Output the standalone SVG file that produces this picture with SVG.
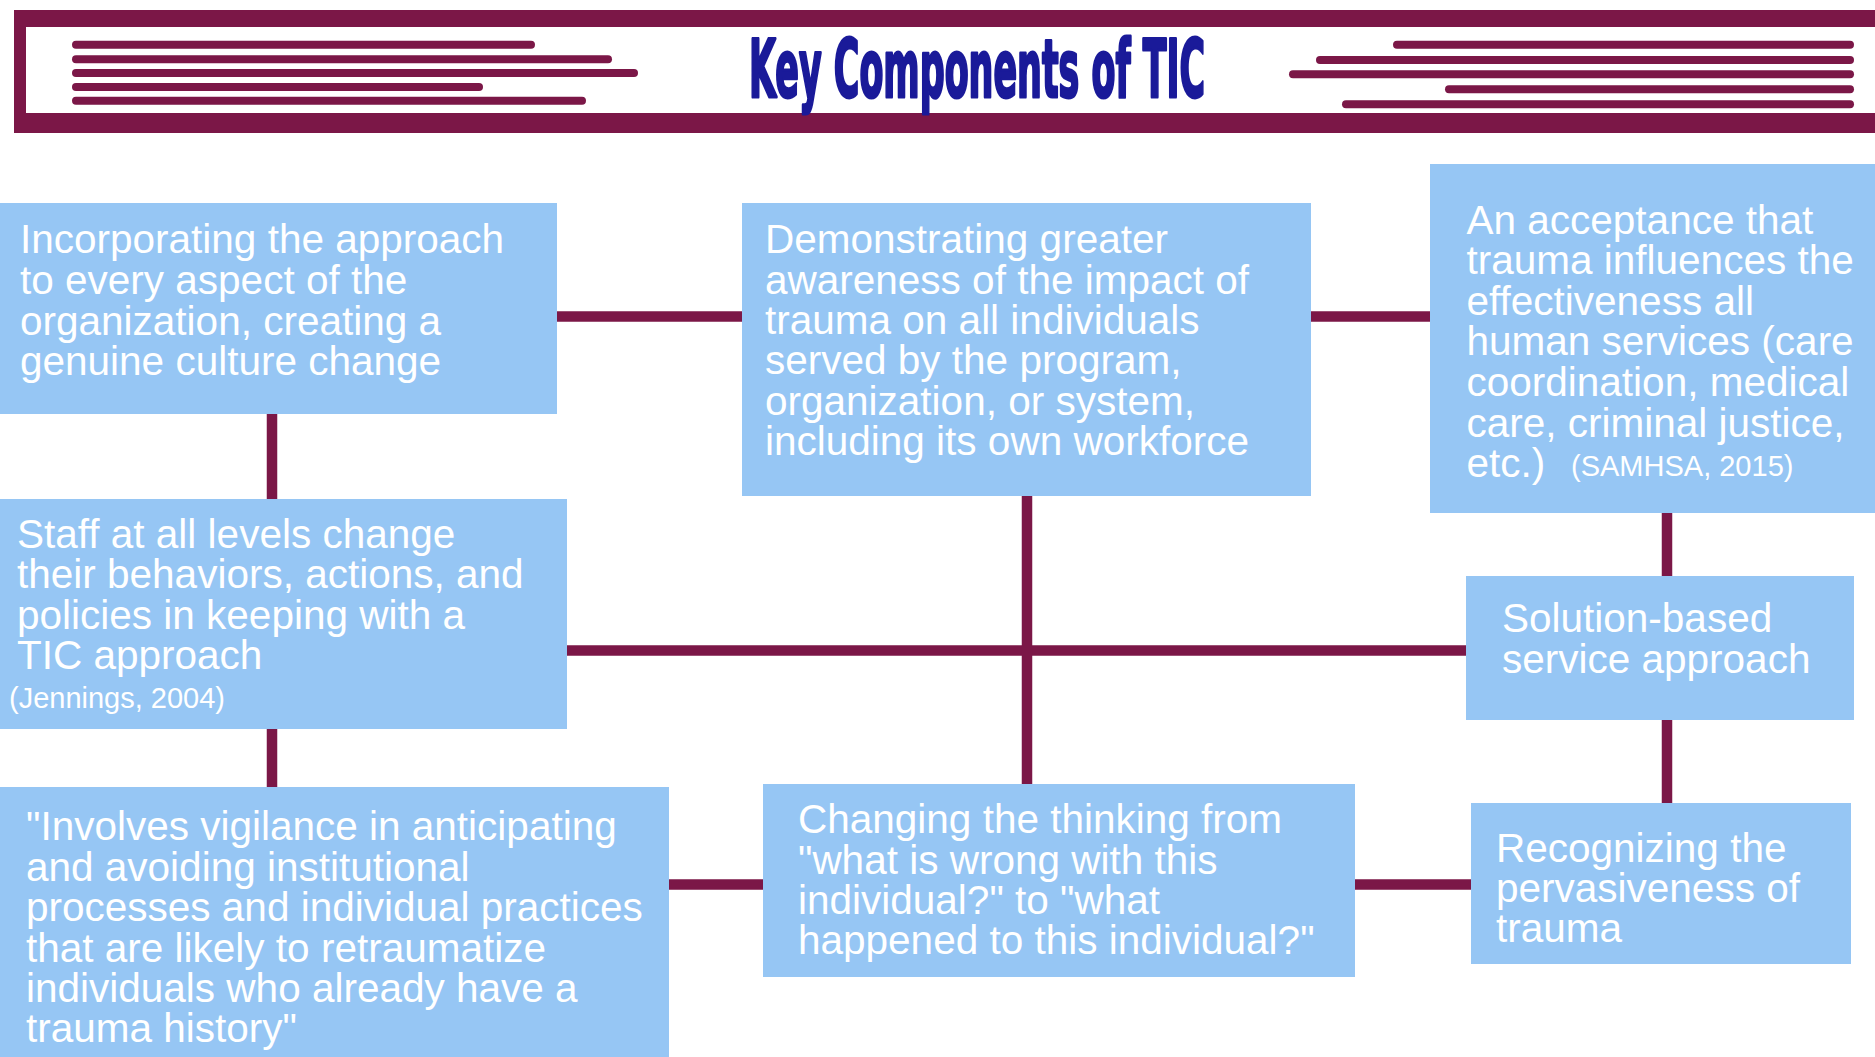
<svg xmlns="http://www.w3.org/2000/svg" width="1875" height="1057" viewBox="0 0 1875 1057">
<style>
.box{fill:#96c6f4}
.t{font-family:"Liberation Sans",Arial,sans-serif;font-size:40.5px;fill:#ffffff}
.s{font-size:29px}
.conn line{stroke:#7b1747;stroke-width:10.5}
.stripe{stroke:#7b1747;stroke-width:8;stroke-linecap:round}
</style>
<rect width="1875" height="1057" fill="#ffffff"/>
<g id="banner">
<rect x="14" y="10" width="1900" height="123" fill="#7b1747"/>
<rect x="26" y="27" width="1900" height="86" fill="#ffffff"/>
<line class="stripe" x1="76" y1="44.7" x2="531" y2="44.7"/>
<line class="stripe" x1="76" y1="59.3" x2="608" y2="59.3"/>
<line class="stripe" x1="76" y1="73" x2="634" y2="73"/>
<line class="stripe" x1="76" y1="87" x2="479" y2="87"/>
<line class="stripe" x1="76" y1="100.7" x2="582" y2="100.7"/>
<line class="stripe" x1="1397" y1="44.7" x2="1850" y2="44.7"/>
<line class="stripe" x1="1320" y1="60" x2="1850" y2="60"/>
<line class="stripe" x1="1293" y1="74.3" x2="1850" y2="74.3"/>
<line class="stripe" x1="1449" y1="89.3" x2="1850" y2="89.3"/>
<line class="stripe" x1="1346" y1="104.3" x2="1850" y2="104.3"/>
<text x="749" y="97" textLength="456" lengthAdjust="spacingAndGlyphs" style="font-family:'DejaVu Sans Condensed','DejaVu Sans',sans-serif;font-weight:bold;font-size:80px;fill:#1a1a99;stroke:#1a1a99;stroke-width:3;stroke-linejoin:round">Key Components of TIC</text>
</g>
<g id="connectors" class="conn">
<line x1="557" y1="316.5" x2="742" y2="316.5"/>
<line x1="1311" y1="316.5" x2="1430" y2="316.5"/>
<line x1="272" y1="414" x2="272" y2="499"/>
<line x1="272" y1="729" x2="272" y2="787"/>
<line x1="567" y1="650.5" x2="1466" y2="650.5"/>
<line x1="1027" y1="496" x2="1027" y2="784"/>
<line x1="669" y1="884.5" x2="763" y2="884.5"/>
<line x1="1355" y1="884.5" x2="1471" y2="884.5"/>
<line x1="1667" y1="513" x2="1667" y2="576"/>
<line x1="1667" y1="720" x2="1667" y2="803"/>
</g>
<g id="node-incorporating">
<rect class="box" x="0" y="203" width="557" height="211"/>
<text class="t"><tspan x="20" y="253">Incorporating the approach</tspan><tspan x="20" y="294">to every aspect of the</tspan><tspan x="20" y="334.5">organization, creating a</tspan><tspan x="20" y="375">genuine culture change</tspan></text>
</g>
<g id="node-staff">
<rect class="box" x="0" y="499" width="567" height="230"/>
<text class="t"><tspan x="17" y="548">Staff at all levels change</tspan><tspan x="17" y="588">their behaviors, actions, and</tspan><tspan x="17" y="628.5">policies in keeping with a</tspan><tspan x="17" y="669">TIC approach</tspan></text>
<text class="t s" x="9" y="708">(Jennings, 2004)</text>
</g>
<g id="node-demonstrating">
<rect class="box" x="742" y="203" width="569" height="293"/>
<text class="t"><tspan x="765" y="253">Demonstrating greater</tspan><tspan x="765" y="293.5">awareness of the impact of</tspan><tspan x="765" y="334">trauma on all individuals</tspan><tspan x="765" y="374">served by the program,</tspan><tspan x="765" y="414.5">organization, or system,</tspan><tspan x="765" y="455">including its own workforce</tspan></text>
</g>
<g id="node-acceptance">
<rect class="box" x="1430" y="164" width="460" height="349"/>
<text class="t"><tspan x="1466.5" y="233.5">An acceptance that</tspan><tspan x="1466.5" y="274">trauma influences the</tspan><tspan x="1466.5" y="314.5">effectiveness all</tspan><tspan x="1466.5" y="355">human services (care</tspan><tspan x="1466.5" y="395.5">coordination, medical</tspan><tspan x="1466.5" y="436.5">care, criminal justice,</tspan><tspan x="1466.5" y="476.5">etc.)</tspan></text>
<text class="t s" x="1571" y="476">(SAMHSA, 2015)</text>
</g>
<g id="node-solution">
<rect class="box" x="1466" y="576" width="388" height="144"/>
<text class="t"><tspan x="1502" y="631.5">Solution-based</tspan><tspan x="1502" y="672.5">service approach</tspan></text>
</g>
<g id="node-involves">
<rect class="box" x="0" y="787" width="669" height="280"/>
<text class="t"><tspan x="26" y="840">"Involves vigilance in anticipating</tspan><tspan x="26" y="881">and avoiding institutional</tspan><tspan x="26" y="921">processes and individual practices</tspan><tspan x="26" y="962">that are likely to retraumatize</tspan><tspan x="26" y="1002">individuals who already have a</tspan><tspan x="26" y="1042">trauma history"</tspan></text>
</g>
<g id="node-changing">
<rect class="box" x="763" y="784" width="592" height="193"/>
<text class="t"><tspan x="798" y="833">Changing the thinking from</tspan><tspan x="798" y="874">"what is wrong with this</tspan><tspan x="798" y="914">individual?" to "what</tspan><tspan x="798" y="954">happened to this individual?"</tspan></text>
</g>
<g id="node-recognizing">
<rect class="box" x="1471" y="803" width="380" height="161"/>
<text class="t"><tspan x="1496" y="862">Recognizing the</tspan><tspan x="1496" y="902">pervasiveness of</tspan><tspan x="1496" y="942">trauma</tspan></text>
</g>
</svg>
